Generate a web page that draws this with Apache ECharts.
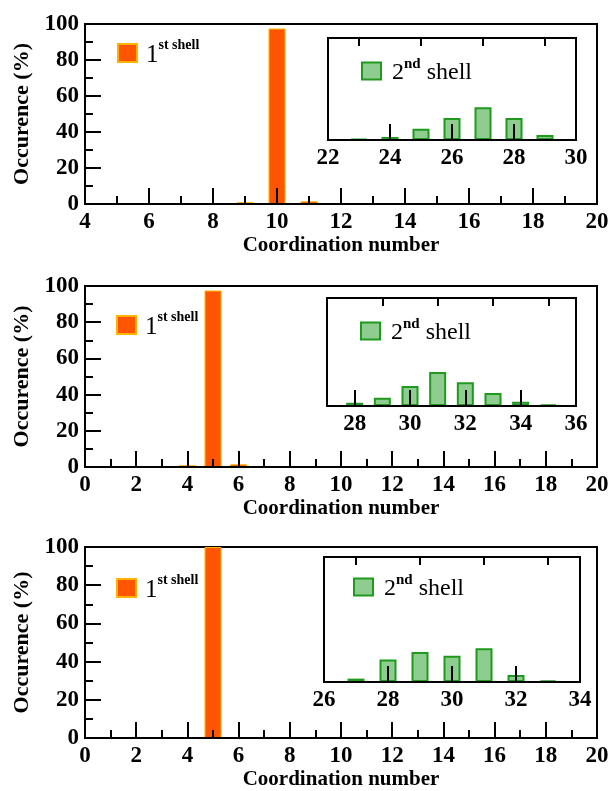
<!DOCTYPE html>
<html><head><meta charset="utf-8">
<script src="https://cdn.jsdelivr.net/npm/echarts@6/dist/echarts.min.js"></script>
<style>html,body{margin:0;padding:0;background:#fff}#c{width:615px;height:791px}</style>
</head><body><div id="c"></div>
<script>
// ---- data ----
const shell1X_a = [8, 9, 10, 11];
const shell1Y_a = [0.3, 1, 97.5, 1.5];
const shell1X_b = [4, 5, 6];
const shell1Y_b = [1, 97.5, 1.5];
const shell1X_c = [5];
const shell1Y_c = [100];

const shell2X_a = [23, 24, 25, 26, 27, 28, 29];
const shell2Y_a = [1, 3, 11, 21.5, 32, 21.5, 5];
const shell2X_b = [28, 29, 30, 31, 32, 33, 34, 35];
const shell2Y_b = [3, 7.7, 18.5, 31.5, 22, 12, 4, 1.5];
const shell2X_c = [27, 28, 29, 30, 31, 32, 33];
const shell2Y_c = [2.7, 18, 24, 21, 27, 5.6, 1.4];

const mainRanges = [[4, 20], [0, 20], [0, 20]];
const insetRanges = [[22, 30], [27, 36], [26, 34]];
const insetMajor = [[22, 24, 26, 28, 30], [28, 30, 32, 34, 36], [26, 28, 30, 32, 34]];
const insetMinor = [[23, 25, 27, 29], [27, 29, 31, 33, 35], [27, 29, 31, 33]];

const xName = 'Coordination number';
const yName = 'Occurence (%)';

// ---- layout ----
const FONT = '"Liberation Serif", "DejaVu Serif", serif';
const mainGrids = [
  {left: 85, top: 24, width: 512, height: 180},
  {left: 85, top: 286, width: 512, height: 181},
  {left: 85, top: 547, width: 512, height: 191}
];
const insetGrids = [
  {left: 328, top: 38, width: 248, height: 102},
  {left: 327, top: 298, width: 249, height: 108},
  {left: 324, top: 557, width: 256, height: 125}
];
const legend1Pos = [{left: 117, top: 38}, {left: 116, top: 310}, {left: 116, top: 573}];
const legend2Pos = [{left: 361, top: 57}, {left: 360, top: 317}, {left: 353, top: 573}];

const sh1X = [shell1X_a, shell1X_b, shell1X_c], sh1Y = [shell1Y_a, shell1Y_b, shell1Y_c];
const sh2X = [shell2X_a, shell2X_b, shell2X_c], sh2Y = [shell2Y_a, shell2Y_b, shell2Y_c];

const grid = [], xAxis = [], yAxis = [], series = [], legend = [];
const lblStyle = {color: '#000', fontFamily: FONT, fontSize: 23, fontWeight: 'bold'};
const line = {color: '#000', width: 2};

for (let p = 0; p < 3; p++) {
  const gi = grid.length;
  grid.push(Object.assign({show: true, borderColor: '#000', borderWidth: 2, backgroundColor: '#fff', z: 0}, mainGrids[p]));
  const xi = xAxis.length;
  xAxis.push({
    type: 'value', gridIndex: gi, min: mainRanges[p][0], max: mainRanges[p][1], interval: 2, z: 5,
    name: xName, nameLocation: 'middle', nameGap: 31,
    nameTextStyle: {color: '#000', fontFamily: FONT, fontSize: 21, fontWeight: 'bold'},
    axisLine: {show: true, lineStyle: line},
    axisTick: {show: true, inside: true, length: 16, lineStyle: line},
    minorTick: {show: true, splitNumber: 2, length: 8, lineStyle: line},
    axisLabel: Object.assign({margin: 7}, lblStyle),
    splitLine: {show: false}
  });
  const yi = yAxis.length;
  yAxis.push({
    type: 'value', gridIndex: gi, min: 0, max: 100, interval: 20, z: 5,
    name: yName, nameLocation: 'middle', nameGap: 51,
    nameTextStyle: {color: '#000', fontFamily: FONT, fontSize: 22, fontWeight: 'bold'},
    axisLine: {show: true, lineStyle: line},
    axisTick: {show: true, inside: true, length: 16, lineStyle: line},
    minorTick: {show: true, splitNumber: 2, length: 8, lineStyle: line},
    axisLabel: Object.assign({margin: 6}, lblStyle),
    splitLine: {show: false}
  });
  const n1 = 's1_' + p;
  series.push({
    name: n1, type: 'bar', xAxisIndex: xi, yAxisIndex: yi, barWidth: 17, z: 2, clip: true,
    itemStyle: {color: '#ff5500', borderColor: '#ffb300', borderWidth: 1},
    data: sh1X[p].map((x, i) => [x, sh1Y[p][i]])
  });
  legend.push(Object.assign({
    data: [n1], orient: 'vertical', itemWidth: 19, itemHeight: 18, itemGap: 0, padding: 0, selectedMode: false,
    icon: 'rect',
    formatter: () => '{a|1}{b|st shell}',
    textStyle: {rich: {
      a: {fontFamily: FONT, fontSize: 25, color: '#000', lineHeight: 30, verticalAlign: 'bottom', padding: [0, 0, 0, 4]},
      b: {fontFamily: FONT, fontSize: 14, color: '#000', fontWeight: 'bold', lineHeight: 14, verticalAlign: 'top'}
    }}
  }, legend1Pos[p]));

  const gj = grid.length;
  grid.push(Object.assign({show: true, borderColor: '#000', borderWidth: 2, backgroundColor: '#fff', z: 3}, insetGrids[p]));
  const xj = xAxis.length;
  xAxis.push({
    type: 'value', gridIndex: gj, min: insetRanges[p][0], max: insetRanges[p][1], z: 6,
    axisLine: {show: true, lineStyle: line},
    axisTick: {show: true, inside: true, length: 16, customValues: insetMajor[p], lineStyle: line},
    axisLabel: Object.assign({margin: 7, customValues: insetMajor[p]}, lblStyle),
    splitLine: {show: false}
  });
  xAxis.push({
    type: 'value', gridIndex: gj, min: insetRanges[p][0], max: insetRanges[p][1], z: 6,
    axisLine: {show: false},
    axisTick: {show: true, inside: true, length: 8, customValues: insetMinor[p], lineStyle: line},
    axisLabel: {show: false},
    splitLine: {show: false}
  });
  const yj = yAxis.length;
  yAxis.push({type: 'value', gridIndex: gj, min: 0, max: 100, show: false, splitLine: {show: false}});
  const n2 = 's2_' + p;
  series.push({
    name: n2, type: 'bar', xAxisIndex: xj, yAxisIndex: yj, barWidth: 17, z: 4, clip: true,
    itemStyle: {color: '#8fcc8f', borderColor: '#1f9a1f', borderWidth: 2},
    data: sh2X[p].map((x, i) => [x, sh2Y[p][i]])
  });
  legend.push(Object.assign({
    data: [n2], orient: 'vertical', itemWidth: 19, itemHeight: 17, itemGap: 0, padding: 0, selectedMode: false,
    icon: 'rect', z: 10,
    itemStyle: {color: '#8fcc8f', borderColor: '#1f9a1f', borderWidth: 2},
    formatter: () => '{a|2}{b|nd}{c| shell}',
    textStyle: {rich: {
      a: {fontFamily: FONT, fontSize: 24, color: '#000', lineHeight: 28, verticalAlign: 'bottom', padding: [0, 0, 0, 6]},
      b: {fontFamily: FONT, fontSize: 15, color: '#000', fontWeight: 'bold', lineHeight: 14, verticalAlign: 'top'},
      c: {fontFamily: FONT, fontSize: 24, color: '#000', lineHeight: 28, verticalAlign: 'bottom'}
    }}
  }, legend2Pos[p]));
}

const chart = echarts.init(document.getElementById('c'), null, {renderer: 'canvas'});
chart.setOption({animation: false, backgroundColor: '#fff', grid, xAxis, yAxis, series, legend});
</script>
</body></html>
